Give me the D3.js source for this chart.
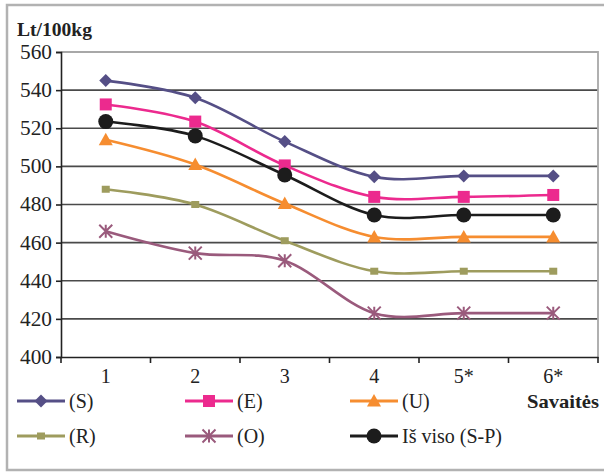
<!DOCTYPE html>
<html><head><meta charset="utf-8">
<script src="https://cdn.jsdelivr.net/npm/d3@7"></script>
<style>body{margin:0;background:#fff}svg{display:block} text{font-family:"Liberation Serif","Times New Roman",serif !important}</style>
</head><body><svg id="c" width="604" height="472"></svg>
<script>
const categories = ["1","2","3","4","5*","6*"];
const yTicks = [400,420,440,460,480,500,520,540,560];
const seriesNames = ["(S)","(E)","(U)","(R)","(O)","Iš viso (S-P)"];
const valuesS = [545,536,513,494.5,495,495];
const valuesE = [532.5,523.5,500.5,484,484,485];
const valuesU = [514,501,480.5,463,463,463];
const valuesR = [488,480,461,445,445,445];
const valuesO = [466,454.5,450.5,423,423,423];
const valuesT = [523.5,516,495.5,474.5,474.5,474.5];
const colors = ["#554f86","#ec2a8e","#f68d30","#9e9c5e","#9a5a7c","#1c1c1c"];
const markers = ["diamond","square","triangle","smallsquare","asterisk","circle"];
const allValues = [valuesS,valuesE,valuesU,valuesR,valuesO,valuesT];

const svg = d3.select("#c");
const L=61, R=598, T=52, B=357;

svg.append("rect").attr("x",7).attr("y",5).attr("width",610).attr("height",465)
  .attr("fill","#fff").attr("stroke","#b2b2b2").attr("stroke-width",2.5);

const x = d3.scaleBand().domain(categories).range([L,R]);
const y = d3.scaleLinear().domain([400,560]).range([B,T]);

svg.append("g").selectAll("line").data(yTicks.filter(d=>d>400 && d<560)).join("line")
  .attr("x1",L).attr("x2",R).attr("y1",d=>y(d)).attr("y2",d=>y(d))
  .attr("stroke","#4a4a4a").attr("stroke-width",1.6);
svg.append("path").attr("d",`M${L},${y(560)}H${R}V${B}`).attr("fill","none")
  .attr("stroke","#a8a8a8").attr("stroke-width",1.8);

const ya = svg.append("g").attr("transform",`translate(${L},0)`)
  .call(d3.axisLeft(y).tickValues(yTicks).tickSize(5).tickPadding(6).tickFormat(d3.format("d")));
ya.select(".domain").attr("stroke","#222").attr("stroke-width",1.6);
ya.selectAll(".tick line").attr("stroke","#222").attr("stroke-width",1.6);
ya.selectAll("text").attr("font-size",20).attr("fill","#222").attr("x",-9)
  .attr("textLength",32).attr("lengthAdjust","spacingAndGlyphs");

const xa = svg.append("g").attr("transform",`translate(0,${B})`)
  .call(d3.axisBottom(x).tickSize(0).tickPadding(12));
xa.select(".domain").attr("stroke","#222").attr("stroke-width",1.6);
xa.selectAll("text").attr("font-size",20).attr("fill","#222");
const bounds = categories.map(c=>x(c)).concat([R]);
xa.append("g").selectAll("line").data(bounds).join("line")
  .attr("x1",d=>d).attr("x2",d=>d).attr("y1",0).attr("y2",6)
  .attr("stroke","#222").attr("stroke-width",1.6);

const cx = c => x(c)+x.bandwidth()/2;

function drawMarker(g, type, color, px, py){
  if(type==="diamond"){
    g.append("path").attr("d",`M${px},${py-6.5}L${px+6.5},${py}L${px},${py+6.5}L${px-6.5},${py}Z`).attr("fill",color);
  } else if(type==="square"){
    g.append("rect").attr("x",px-6).attr("y",py-6).attr("width",12).attr("height",12).attr("fill",color);
  } else if(type==="triangle"){
    g.append("path").attr("d",`M${px},${py-7}L${px+7},${py+5.5}L${px-7},${py+5.5}Z`).attr("fill",color);
  } else if(type==="smallsquare"){
    g.append("rect").attr("x",px-4).attr("y",py-3.5).attr("width",8).attr("height",7).attr("fill",color);
  } else if(type==="asterisk"){
    const r=6.5;
    g.append("path").attr("d",`M${px-r},${py-r}L${px+r},${py+r}M${px+r},${py-r}L${px-r},${py+r}M${px},${py-r}V${py+r}`)
      .attr("stroke",color).attr("stroke-width",2).attr("fill","none");
  } else if(type==="circle"){
    g.append("circle").attr("cx",px).attr("cy",py).attr("r",7.5).attr("fill",color);
  }
}

const line = d3.line().x(d=>cx(d.c)).y(d=>y(d.v)).curve(d3.curveCardinal.tension(0));
allValues.forEach((vals,i)=>{
  const data = categories.map((c,j)=>({c, v: vals[j]}));
  const g = svg.append("g");
  g.append("path").datum(data).attr("d",line).attr("fill","none")
    .attr("stroke",colors[i]).attr("stroke-width",2.6);
  data.forEach(d=>drawMarker(g, markers[i], colors[i], cx(d.c), y(d.v)));
});

svg.append("text").attr("x",17).attr("y",36).text("Lt/100kg")
  .attr("font-weight","bold").attr("font-size",18).attr("fill","#222")
  .attr("textLength",75).attr("lengthAdjust","spacingAndGlyphs");
svg.append("text").attr("x",527).attr("y",408).text("Savaitės")
  .attr("font-weight","bold").attr("font-size",19).attr("fill","#222")
  .attr("textLength",72).attr("lengthAdjust","spacingAndGlyphs");

const legX = [17,185,350];
const legY = [401,436];
seriesNames.forEach((name,i)=>{
  const lx = legX[i%3], ly = legY[Math.floor(i/3)];
  const g = svg.append("g");
  g.append("line").attr("x1",lx).attr("x2",lx+48).attr("y1",ly).attr("y2",ly)
    .attr("stroke",colors[i]).attr("stroke-width",2.8);
  drawMarker(g, markers[i], colors[i], lx+24, ly);
  g.append("text").attr("x",lx+52).attr("y",ly+7).text(name)
    .attr("font-size",20).attr("fill","#222");
});
</script></body></html>
